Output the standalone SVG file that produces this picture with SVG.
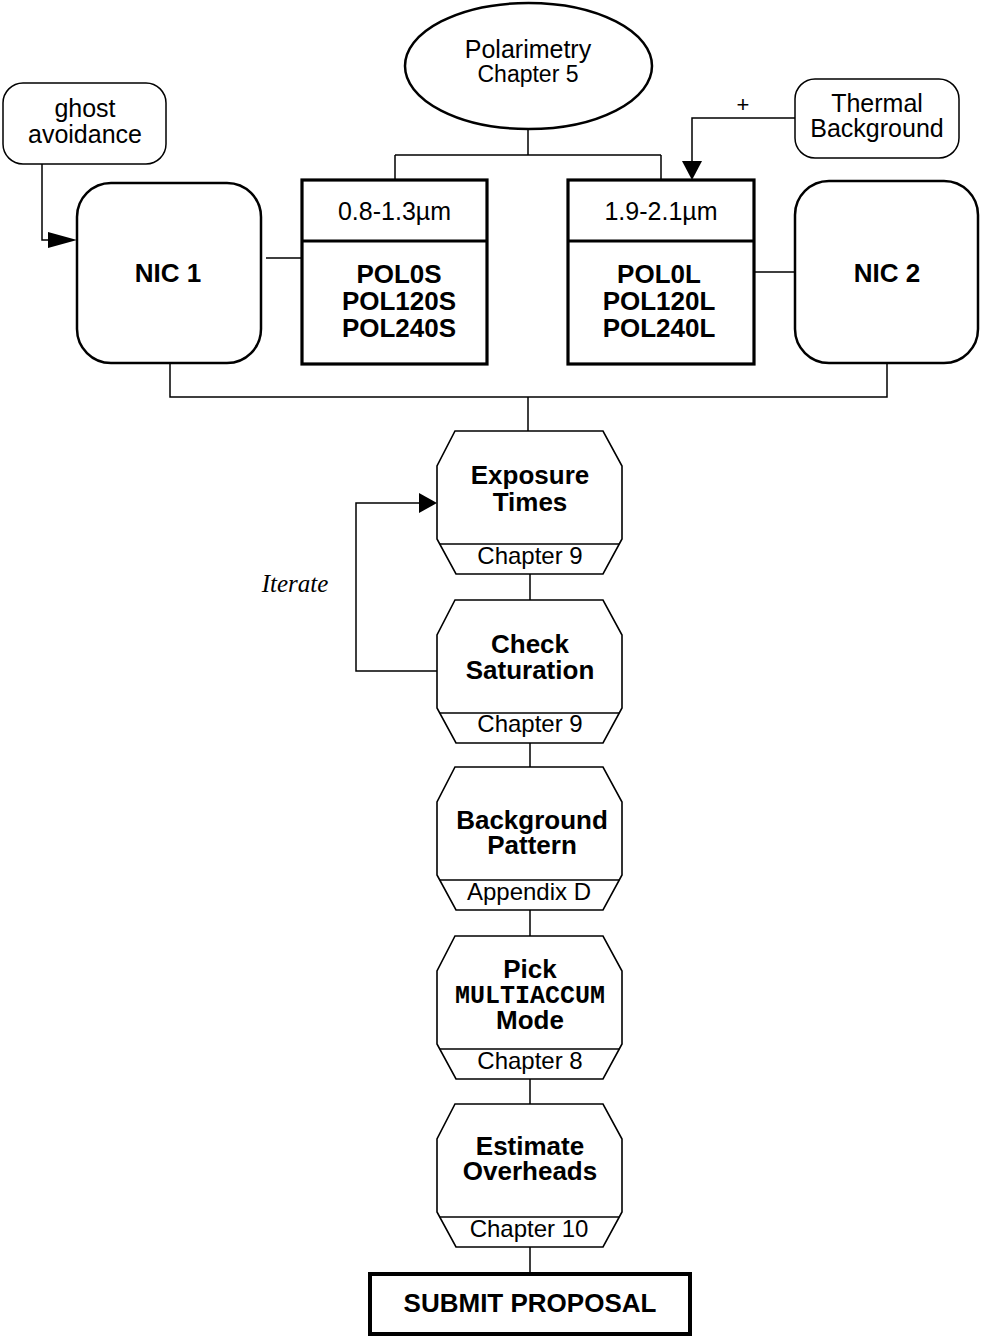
<svg xmlns="http://www.w3.org/2000/svg" width="981" height="1336" viewBox="0 0 981 1336">
<style>
.t{font-family:"Liberation Sans",Arial,sans-serif;fill:#000;text-anchor:middle}
.r{font-size:25px}
.b{font-size:26px;font-weight:bold}
.c{font-size:24px}
.m{font-family:"Liberation Mono","Courier New",monospace;font-weight:bold;font-size:25px;text-anchor:middle}
.it{font-family:"Liberation Serif","Times New Roman",serif;font-style:italic;font-size:25px;text-anchor:middle}
.ln{fill:none;stroke:#000;stroke-width:1.5}
.hex{fill:#fff;stroke:#000;stroke-width:1.6}
.nic{fill:#fff;stroke:#000;stroke-width:2.5}
.pol{fill:#fff;stroke:#000;stroke-width:3.2}
.note{fill:#fff;stroke:#000;stroke-width:1.5}
</style>
<defs>
<marker id="ah" markerWidth="10" markerHeight="10" refX="10" refY="5" orient="auto" markerUnits="userSpaceOnUse" viewBox="0 0 10 10" style="overflow:visible">
<path d="M0,0 L10,5 L0,10 Z" fill="#000"/>
</marker>
<g id="hexshape">
<polygon class="hex" points="455,0 603,0 622,35 622,108 603,143 456,143 437,108 437,35"/>
<line class="ln" x1="439.7" y1="113" x2="619.3" y2="113"/>
</g>
</defs>
<rect width="981" height="1336" fill="#fff"/>

<g id="connectors">
<path class="ln" d="M528,130 V155 M395,155 H661 M395,155 V180 M661,155 V180"/>
<path class="ln" d="M266,258 H302 M754,272 H795"/>
<path class="ln" d="M170,364 V397 H887 V364 M528,397 V431"/>
<path class="ln" d="M42,164 V240 H56"/>
<path d="M48,232 L77,240 L48,248 Z" fill="#000"/>
<path class="ln" d="M795,118 H692 V162"/>
<path d="M682,161 L692,180 L702,161 Z" fill="#000"/>
<path class="ln" d="M437,671 H356 V503 H420"/>
<path d="M419,493 L437,503 L419,513 Z" fill="#000"/>
<path class="ln" d="M530,574 V600 M530,743 V767 M530,910 V936 M530,1079 V1104 M530,1247 V1272"/>
<text class="t" x="743" y="112" style="font-size:22px">+</text>
<text class="it" x="295" y="592">Iterate</text>
</g>

<g id="polarimetry">
<ellipse cx="528.5" cy="66" rx="123.5" ry="63" fill="#fff" stroke="#000" stroke-width="2.5"/>
<text class="t" x="528" y="58" style="font-size:25px">Polarimetry</text>
<text class="t" x="528" y="82" style="font-size:23px">Chapter 5</text>
</g>

<g id="ghost">
<rect class="note" x="3" y="83" width="163" height="81" rx="20"/>
<text class="t r" x="85" y="117">ghost</text>
<text class="t r" x="85" y="143">avoidance</text>
</g>

<g id="thermal">
<rect class="note" x="795" y="79" width="164" height="79" rx="20"/>
<text class="t r" x="877" y="112">Thermal</text>
<text class="t r" x="877" y="137">Background</text>
</g>

<g id="nic1">
<rect class="nic" x="77" y="183" width="184" height="180" rx="34"/>
<text class="t b" x="168" y="282">NIC 1</text>
</g>

<g id="nic2">
<rect class="nic" x="795" y="181" width="183" height="182" rx="34"/>
<text class="t b" x="887" y="282">NIC 2</text>
</g>

<g id="pol-short">
<rect class="pol" x="302" y="180" width="185" height="184"/>
<line x1="302" y1="241" x2="487" y2="241" stroke="#000" stroke-width="3"/>
<text class="t r" x="394.5" y="220">0.8-1.3µm</text>
<text class="t b" x="399" y="283">POL0S</text>
<text class="t b" x="399" y="310">POL120S</text>
<text class="t b" x="399" y="337">POL240S</text>
</g>

<g id="pol-long">
<rect class="pol" x="568" y="180" width="186" height="184"/>
<line x1="568" y1="241" x2="754" y2="241" stroke="#000" stroke-width="3"/>
<text class="t r" x="661" y="220">1.9-2.1µm</text>
<text class="t b" x="659" y="283">POL0L</text>
<text class="t b" x="659" y="310">POL120L</text>
<text class="t b" x="659" y="337">POL240L</text>
</g>

<g id="exposure" transform="translate(0,431)">
<use href="#hexshape"/>
<text class="t b" x="530" y="53">Exposure</text>
<text class="t b" x="530" y="80">Times</text>
<text class="t c" x="530" y="133">Chapter 9</text>
</g>

<g id="saturation" transform="translate(0,600)">
<use href="#hexshape"/>
<text class="t b" x="530" y="53">Check</text>
<text class="t b" x="530" y="79">Saturation</text>
<text class="t c" x="530" y="132">Chapter 9</text>
</g>

<g id="background" transform="translate(0,767)">
<use href="#hexshape"/>
<text class="t b" x="532" y="62">Background</text>
<text class="t b" x="532" y="87">Pattern</text>
<text class="t c" x="529" y="133">Appendix D</text>
</g>

<g id="multiaccum" transform="translate(0,936)">
<use href="#hexshape"/>
<text class="t b" x="530" y="42">Pick</text>
<text class="m" x="530" y="67">MULTIACCUM</text>
<text class="t b" x="530" y="93">Mode</text>
<text class="t c" x="530" y="133">Chapter 8</text>
</g>

<g id="overheads" transform="translate(0,1104)">
<use href="#hexshape"/>
<text class="t b" x="530" y="51">Estimate</text>
<text class="t b" x="530" y="76">Overheads</text>
<text class="t c" x="529" y="133">Chapter 10</text>
</g>

<g id="submit">
<rect x="370" y="1274" width="320" height="60" fill="#fff" stroke="#000" stroke-width="4"/>
<text class="t b" x="530" y="1312">SUBMIT PROPOSAL</text>
</g>
</svg>
